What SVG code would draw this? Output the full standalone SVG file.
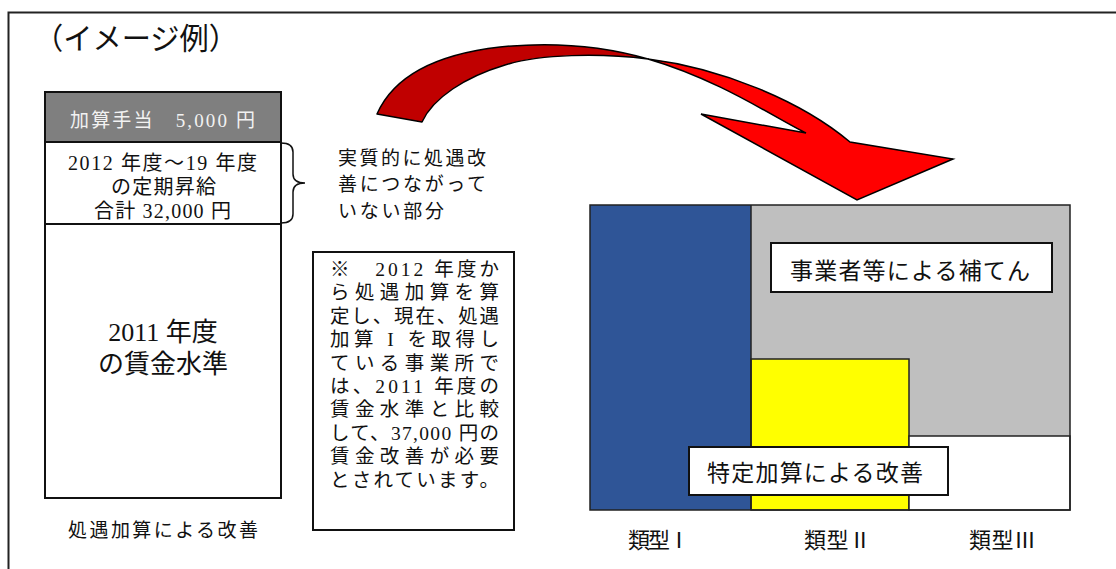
<svg xmlns="http://www.w3.org/2000/svg" width="1116" height="569" viewBox="0 0 1116 569">
<style>
.m{font-family:"Liberation Serif","Noto Sans CJK JP",serif;fill:#111}
.g{font-family:"Noto Sans CJK JP","Noto Sans",sans-serif;fill:#111}
.box{fill:#fff;stroke:#111;stroke-width:2}
.cb{stroke:#222;stroke-width:1.5}
</style>
<rect x="8.5" y="12.5" width="1130" height="580" fill="#fff" stroke="#222" stroke-width="2"/>
<text class="m" x="34" y="49" font-size="30" textLength="204" lengthAdjust="spacingAndGlyphs">（イメージ例）</text>

<g id="left-stack">
  <rect x="45" y="92" width="236" height="50" fill="#7f7f7f" stroke="#111" stroke-width="2"/>
  <text class="m" x="70" y="127" font-size="19" textLength="185" style="fill:#f2f2f2">加算手当　5,000 円</text>
  <rect class="box" x="45" y="142" width="236" height="82"/>
  <text class="m" x="68" y="170" font-size="20" textLength="189">2012 年度～19 年度</text>
  <text class="m" x="111" y="194" font-size="20" textLength="105">の定期昇給</text>
  <text class="m" x="94" y="218" font-size="20" textLength="137">合計 32,000 円</text>
  <rect class="box" x="45" y="224" width="236" height="274"/>
  <text class="m" x="163" y="341" font-size="26" text-anchor="middle">2011 年度</text>
  <text class="m" x="163" y="373" font-size="26" text-anchor="middle">の賃金水準</text>
  <text class="m" x="68" y="537" font-size="19" textLength="190">処遇加算による改善</text>
</g>

<g id="brace-label">
  <text class="m" x="338" y="165" font-size="19" textLength="148">実質的に処遇改</text>
  <text class="m" x="338" y="191" font-size="19" textLength="148">善につながって</text>
  <text class="m" x="338" y="218" font-size="19" textLength="106">いない部分</text>
</g>

<g id="note">
  <rect class="box" x="313" y="252" width="201" height="278"/>
  <g class="m" font-size="19.5">
    <text x="330" y="276" textLength="169">※　2012 年度か</text>
    <text x="330" y="299.4" textLength="169">ら処遇加算を算</text>
    <text x="330" y="322.8" textLength="169">定し、現在、処遇</text>
    <text x="330" y="346.2" textLength="169">加算 I を取得し</text>
    <text x="330" y="369.6" textLength="169">ている事業所で</text>
    <text x="330" y="393" textLength="169">は、2011 年度の</text>
    <text x="330" y="416.4" textLength="169">賃金水準と比較</text>
    <text x="330" y="439.8" textLength="169">して、37,000 円の</text>
    <text x="330" y="463.2" textLength="169">賃金改善が必要</text>
    <text x="330" y="486.6" textLength="169">とされています。</text>
  </g>
</g>

<g id="chart">
  <rect x="590" y="205" width="161" height="305" fill="#2f5597"/>
  <rect x="751" y="205" width="319" height="231" fill="#bfbfbf"/>
  <rect x="751" y="359" width="158" height="151" fill="#ffff00" class="cb"/>
  <rect x="909" y="436" width="161" height="74" fill="#fff" class="cb"/>
  <line x1="751" y1="205" x2="751" y2="510" class="cb"/>
  <rect x="590" y="205" width="480" height="305" fill="none" class="cb"/>
  <g id="box-hoten">
    <rect class="box" x="771" y="243" width="281" height="49"/>
    <text class="g" x="790" y="279" font-size="23" textLength="240">事業者等による補てん</text>
  </g>
  <g id="box-tokutei">
    <rect class="box" x="689" y="447" width="259" height="48"/>
    <text class="g" x="707" y="481" font-size="23" textLength="216">特定加算による改善</text>
  </g>
  <text class="g" x="628" y="548" font-size="22" textLength="62">類型Ⅰ</text>
  <text class="g" x="804" y="548" font-size="22" textLength="67">類型Ⅱ</text>
  <text class="g" x="969" y="548" font-size="22" textLength="67">類型Ⅲ</text>
</g>

<g id="connectors">
  <path d="M281,143 Q293,143 293,152 L293,174 Q293,183 305,183 Q293,183 293,192 L293,214 Q293,223 281,223" fill="none" stroke="#111" stroke-width="1.5"/>
  <path d="M377,114 C392,80 430,55 500,47 C560,41 610,48 648,59 C600,53 540,54 505,65 C465,77 433,98 422,122 Z" fill="#c00000" stroke="#000" stroke-width="1.5" stroke-linejoin="round"/>
  <path d="M648,59 C720,68 800,100 850,142 L953,159 L857,200 L701,114 L806,133 C775,118 720,80 648,59 Z" fill="#ff0000" stroke="#000" stroke-width="1.5" stroke-linejoin="miter"/>
</g>
</svg>
